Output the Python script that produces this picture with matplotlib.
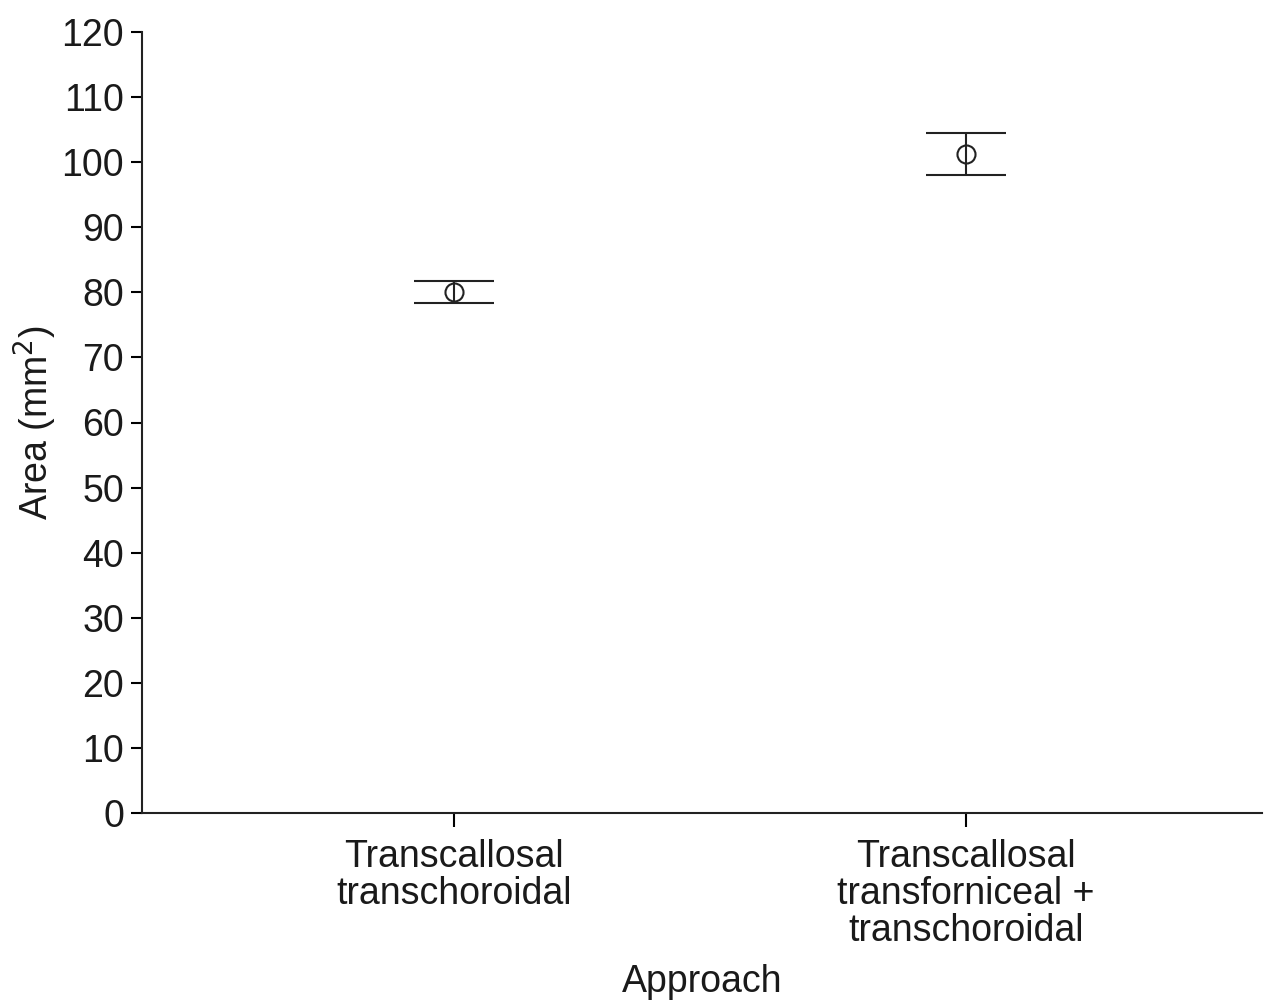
import matplotlib.pyplot as plt

plt.rcParams['font.family'] = ['Liberation Sans', 'DejaVu Sans']

# Data
approaches = ['Transcallosal\ntranschoroidal',
              'Transcallosal\ntransforniceal +\ntranschoroidal']
mean_area = [80.0, 101.3]
err_area = [1.7, 3.2]
y_ticks = list(range(0, 121, 10))

fig = plt.figure(figsize=(12.76, 10), dpi=100)
ax = fig.add_axes([0.1113, 0.187, 0.8777, 0.781])

x = [1, 2]
ax.errorbar(x, mean_area, yerr=err_area, fmt='o', color='#222222',
            mfc='none', markersize=13, markeredgewidth=1.5,
            elinewidth=1.5, capsize=28.8, capthick=1.8)

fs = 27
ax.set_xlim(0.391, 2.578)
ax.set_ylim(0, 120)
ax.set_yticks(y_ticks)
ax.set_xticks(x)
ax.set_xticklabels(approaches, fontsize=fs, linespacing=1.03, color='#1a1a1a')
ax.tick_params(axis='y', labelsize=fs, length=8, width=1.5, direction='out',
               pad=5, labelcolor='#1a1a1a')
ax.tick_params(axis='x', length=10, width=1.5, direction='out', pad=9)

for side in ['top', 'right']:
    ax.spines[side].set_visible(False)
for side in ['left', 'bottom']:
    ax.spines[side].set_linewidth(1.5)
    ax.spines[side].set_color('#222222')

ax.set_ylabel('Area (mm$^2$)', fontsize=fs, labelpad=2, color='#1a1a1a')
ax.set_xlabel('Approach', fontsize=fs, labelpad=11, color='#1a1a1a')

fig.savefig('out.png', dpi=100)
